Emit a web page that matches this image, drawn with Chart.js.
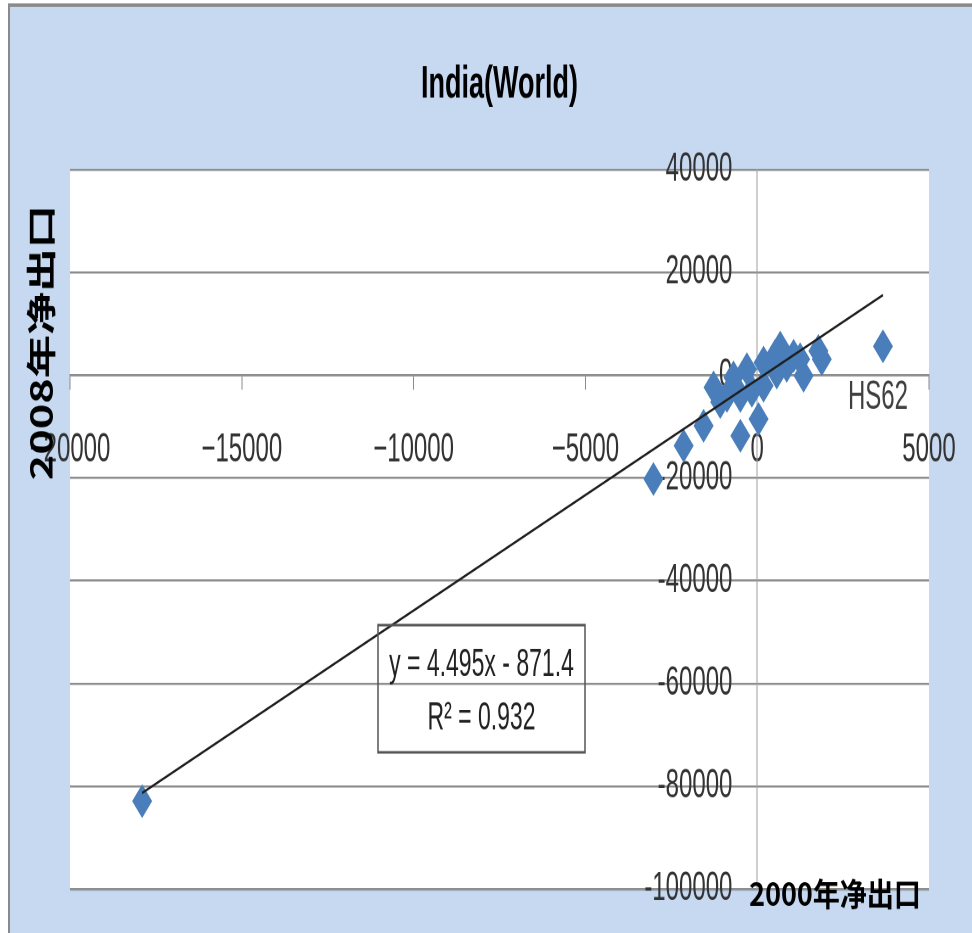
<!DOCTYPE html>
<html><head><meta charset="utf-8">
<script src="https://cdn.jsdelivr.net/npm/chart.js@4"></script>
<style>
html,body{margin:0;padding:0;background:#fff;overflow:hidden;width:972px;height:933px;}
#wrap{position:absolute;left:0;top:0;width:972px;height:550px;transform:scaleY(1.69636);transform-origin:0 0;}
canvas{display:block;}
</style></head><body>
<div id="wrap"><canvas id="c" width="972" height="550"></canvas></div>
<script>
const chartTitle = 'India(World)';
const xAxisTitle = '2000年净出口';
const yAxisTitle = '2008年净出口';
const xTicks = [-20000, -15000, -10000, -5000, 0, 5000];
const yTicks = [-100000, -80000, -60000, -40000, -20000, 0, 20000, 40000];
const netExport2000 = [-17900, -3020, -2140, -1560, -1270, -1075, -880, -690, -490, -490, -300, -155, 40, 185, 185, 520, 570, 670, 860, 1060, 1250, 1350, 1780, 1880, 3660];
const netExport2008 = [-82900, -20200, -13730, -9840, -2390, -5240, -4020, -450, -4020, -11790, 1170, -3050, -8540, 2460, -2070, 3750, 520, 5370, 1810, 3750, 3110, -130, 4720, 3110, 5600];
const pointLabels = ['', '', '', '', '', '', '', '', '', '', '', '', '', '', '', '', '', '', '', '', '', '', '', '', 'HS62'];
const trendX = [-17900, 3660];
const trendY = [-81330, 15580];
const equationLines = ['y = 4.495x - 871.4', 'R² = 0.932'];

const scatterData = netExport2000.map((x, i) => ({x: x, y: netExport2008[i]}));
const trendData = trendX.map((x, i) => ({x: x, y: trendY[i]}));

const decor = {
  id: 'decor',
  beforeDraw(chart) {
    const ctx = chart.ctx, a = chart.chartArea;
    ctx.save();
    ctx.fillStyle = '#ffffff';
    ctx.fillRect(0, 0, chart.width, chart.height);
    ctx.fillStyle = '#c6d9f1';
    ctx.fillRect(9, 3, chart.width - 9, chart.height - 3);
    ctx.strokeStyle = '#8a8a8a';
    ctx.lineWidth = 2;
    ctx.beginPath(); ctx.moveTo(9, chart.height); ctx.lineTo(9, 3); ctx.lineTo(chart.width, 3); ctx.stroke();
    ctx.fillStyle = '#ffffff';
    ctx.fillRect(a.left, a.top, a.right - a.left, a.bottom - a.top);
    ctx.fillStyle = 'rgba(120,130,150,0.35)';
    ctx.fillRect(a.left, a.bottom, a.right - a.left, 1.2);
    ctx.restore();
  },
  afterDraw(chart) {
    const ctx = chart.ctx, a = chart.chartArea;
    ctx.save();
    // equation box
    const bx = a.left + 308, by = 368.5, bw = 207, bh = 75;
    ctx.strokeStyle = '#555';
    ctx.lineWidth = 1.5;
    ctx.strokeRect(bx, by, bw, bh);
    ctx.fillStyle = '#222';
    ctx.font = '23px "Liberation Sans", Arial, sans-serif';
    ctx.textAlign = 'center';
    ctx.textBaseline = 'middle';
    ctx.fillText(equationLines[0], bx + bw / 2, by + 23.5);
    ctx.fillText(equationLines[1], bx + bw / 2, by + 55);
    // point labels
    const meta = chart.getDatasetMeta(1);
    ctx.fillStyle = '#404040';
    ctx.font = '24px "Liberation Sans", Arial, sans-serif';
    meta.data.forEach((pt, i) => {
      if (pointLabels[i]) ctx.fillText(pointLabels[i], pt.x - 5, pt.y + 30);
    });
    // y axis title (rotated)
    ctx.fillStyle = '#000';
    ctx.font = 'bold 30px "Noto Sans CJK SC", sans-serif';
    ctx.save();
    ctx.translate(41, 202);
    ctx.rotate(-Math.PI / 2);
    ctx.scale(0.85, 1);
    ctx.fillText(yAxisTitle, 0, 0);
    ctx.restore();
    // x axis title
    ctx.save();
    ctx.font = 'bold 27px "Noto Sans CJK SC", sans-serif';
    ctx.translate(835, 527);
    ctx.scale(1, 0.7);
    ctx.fillText(xAxisTitle, 0, 0);
    ctx.restore();
    ctx.restore();
  }
};

const tickFont = {family: '"Liberation Sans", Arial, sans-serif', size: 24};

new Chart(document.getElementById('c'), {
  type: 'scatter',
  data: {
    datasets: [
      {type: 'line', label: 'trend', data: trendData, borderColor: '#1e1e1e', borderWidth: 1.4, pointRadius: 0, fill: false, order: 0},
      {type: 'scatter', label: 'HS', data: scatterData, pointStyle: 'rectRot', pointRadius: 10, pointHoverRadius: 10, backgroundColor: '#4a7ebb', borderColor: '#4a7ebb', borderWidth: 0, order: 1}
    ]
  },
  options: {
    responsive: false,
    devicePixelRatio: 2,
    animation: false,
    layout: {padding: {left: 70, right: 43, top: 0, bottom: 26}},
    plugins: {
      legend: {display: false},
      tooltip: {enabled: false},
      title: {display: true, text: chartTitle, color: '#000', font: {family: '"Liberation Sans", Arial, sans-serif', size: 27, weight: 'bold'}, padding: {top: 34, bottom: 33.6}}
    },
    scales: {
      x: {
        type: 'linear', min: -20000, max: 5000, position: {y: 0},
        afterBuildTicks: s => { s.ticks = xTicks.map(v => ({value: v})); },
        afterFit: s => { s.paddingLeft = 0; s.paddingRight = 0; },
        grid: {drawOnChartArea: false, drawTicks: true, tickLength: 8, color: '#8c8c8c', lineWidth: 1},
        border: {display: true, color: '#8c8c8c', width: 1.2},
        ticks: {padding: 21.6, font: tickFont, color: '#333', maxRotation: 0, minRotation: 0, autoSkip: false,
          callback: v => String(v).replace('-', '\u2212')}
      },
      y: {
        type: 'linear', min: -100000, max: 40000, position: {x: 0},
        afterBuildTicks: s => { s.ticks = yTicks.map(v => ({value: v})); },
        afterFit: s => { s.paddingTop = 0; s.paddingBottom = 0; },
        grid: {drawOnChartArea: true, drawTicks: false, color: '#8c8c8c', lineWidth: 1.2},
        border: {display: true, color: '#a0a0a0', width: 1},
        ticks: {padding: 0, font: tickFont, color: '#333', autoSkip: false, callback: v => String(v) + '   \u2009'}
      }
    }
  },
  plugins: [decor]
});
</script>
</body></html>
